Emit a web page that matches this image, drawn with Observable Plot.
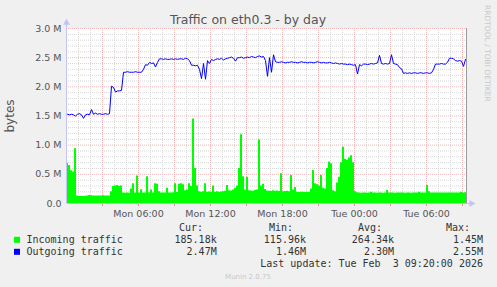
<!DOCTYPE html>
<html><head><meta charset="utf-8">
<script src="https://cdn.jsdelivr.net/npm/d3@7"></script>
<script src="https://cdn.jsdelivr.net/npm/@observablehq/plot@0.6"></script>
<style>
html,body{margin:0;padding:0;background:#f0f0f0;}
#wrap{position:relative;width:497px;height:287px;overflow:hidden;background:#f0f0f0;}
#wrap svg{position:absolute;left:0;top:0;}
</style></head><body><div id="wrap"></div>
<script>
const title = "Traffic on eth0.3 - by day";
const yLabel = "bytes";
const seriesNames = ["Incoming traffic", "Outgoing traffic"];
const seriesColors = ["#00ff00", "#0000ff"];
const statHeaders = ["Cur:", "Min:", "Avg:", "Max:"];
const incomingStats = ["185.18k", "115.96k", "264.34k", "1.45M"];
const outgoingStats = ["2.47M", "1.46M", "2.30M", "2.55M"];
const lastUpdate = "Last update: Tue Feb  3 09:20:00 2026";
const credit = "Munin 2.0.75";
const watermark = "RRDTOOL / TOBI OETIKER";
const yTicks = [0, 0.5, 1, 1.5, 2, 2.5, 3];
const yTickLabels = ["0.0", "0.5 M", "1.0 M", "1.5 M", "2.0 M", "2.5 M", "3.0 M"];
const xTickHours = [6, 12, 18, 24, 30];
const xTickLabels = ["Mon 06:00", "Mon 12:00", "Mon 18:00", "Tue 00:00", "Tue 06:00"];
const startTime = Date.UTC(2026, 1, 2, 0, 0);
const endTime = Date.UTC(2026, 1, 3, 9, 20);
const stepMinutes = 10;

// incoming traffic, thousands of bytes, one value per 10 minutes
const incomingK = [
 690,650,560,540,940,130,120,118,120,125,
 130,138,135,130,128,130,128,130,132,130,
 128,130,200,290,300,310,290,300,180,175,
 178,176,250,340,180,470,180,235,178,180,
 460,185,230,180,340,330,200,180,178,182,
 260,180,178,185,340,190,330,340,320,220,
 230,340,290,1450,600,300,200,195,200,340,
 195,198,195,300,195,200,195,198,200,210,
 310,220,215,230,260,300,600,1180,460,230,
 450,220,215,210,225,230,1090,300,330,240,
 215,210,205,220,210,215,205,510,200,205,
 210,200,480,230,275,195,190,195,192,190,
 195,190,250,565,340,320,300,480,260,250,
 600,710,680,220,200,350,450,700,965,760,
 740,780,820,700,200,185,180,175,178,180,
 176,178,195,180,178,175,180,178,176,180,
 225,182,178,180,176,178,180,182,178,176,
 180,178,176,180,182,178,195,180,178,182,
 310,200,180,178,182,180,178,180,182,180,
 178,182,180,178,180,182,180,195,182,185
];
// outgoing traffic, millions of bytes, one value per 10 minutes
const outgoingM = [
 1.53,1.52,1.53,1.52,1.50,1.53,1.54,1.52,1.46,1.52,
 1.53,1.52,1.61,1.53,1.55,1.53,1.54,1.53,1.53,1.54,
 1.53,1.54,2.01,1.99,1.91,1.93,1.93,1.94,2.25,2.25,
 2.26,2.25,2.25,2.25,2.26,2.25,2.25,2.25,2.30,2.38,
 2.37,2.42,2.40,2.41,2.34,2.42,2.48,2.48,2.47,2.48,
 2.47,2.47,2.48,2.47,2.48,2.47,2.48,2.48,2.47,2.49,
 2.48,2.45,2.37,2.37,2.36,2.37,2.30,2.14,2.40,2.13,
 2.45,2.40,2.47,2.45,2.47,2.48,2.47,2.49,2.46,2.48,
 2.49,2.50,2.51,2.49,2.44,2.50,2.50,2.51,2.49,2.50,
 2.51,2.50,2.52,2.51,2.50,2.52,2.53,2.51,2.52,2.45,
 2.18,2.50,2.25,2.55,2.43,2.42,2.42,2.43,2.42,2.41,
 2.42,2.42,2.43,2.42,2.42,2.41,2.42,2.43,2.42,2.42,
 2.41,2.42,2.42,2.41,2.42,2.43,2.42,2.41,2.42,2.41,
 2.41,2.42,2.41,2.40,2.41,2.40,2.39,2.40,2.39,2.39,
 2.38,2.39,2.38,2.37,2.38,2.22,2.38,2.36,2.39,2.39,
 2.38,2.39,2.40,2.39,2.40,2.41,2.54,2.40,2.39,2.40,
 2.39,2.40,2.55,2.40,2.39,2.38,2.33,2.31,2.23,2.24,
 2.23,2.24,2.23,2.24,2.24,2.23,2.24,2.24,2.23,2.24,
 2.24,2.23,2.24,2.30,2.39,2.39,2.39,2.40,2.39,2.39,
 2.42,2.49,2.49,2.48,2.45,2.44,2.45,2.44,2.35,2.47
];

const MIN = 60000;
const stepMs = stepMinutes * MIN;
const rows = incomingK.map((v, i) => ({
  t: new Date(startTime + i * stepMs),
  tm: new Date(startTime + (i + 0.5) * stepMs),
  inc: v / 1000,
  out: outgoingM[i]
}));
const areaRows = rows.concat([{t: new Date(endTime), inc: rows[rows.length - 1].inc}]);

const hourTimes = d3.range(1, 34).map(h => new Date(startTime + h * 60 * MIN));
const minorX = hourTimes.filter((d, i) => (i + 1) % 3 !== 0);
const majorX = hourTimes.filter((d, i) => (i + 1) % 3 === 0);
const minorY = d3.range(1, 30).filter(k => k % 5 !== 0).map(k => k / 10);
const majorY = [0.5, 1, 1.5, 2, 2.5, 3];
const xTickTimes = xTickHours.map(h => new Date(startTime + h * 60 * MIN));
const start = new Date(startTime), end = new Date(endTime);
const axisColor = "#c4c4f4";
const textColor = "#555";

const chart = Plot.plot({
  width: 497, height: 287,
  marginLeft: 66, marginRight: 31, marginTop: 28, marginBottom: 84,
  style: {background: "transparent", fontFamily: "DejaVu Sans", fontSize: "9.5px", color: textColor},
  x: {type: "utc", domain: [start, end], label: null},
  y: {domain: [0, 3], label: null},
  marks: [
    Plot.frame({fill: "white", stroke: "none"}),
    Plot.ruleY(minorY, {stroke: "#d6d6d6", strokeDasharray: "1,1"}),
    Plot.ruleX(minorX, {stroke: "#d6d6d6", strokeDasharray: "1,1"}),
    Plot.ruleY(majorY, {stroke: "#f0b4b4", strokeDasharray: "1,1"}),
    Plot.ruleX(majorX, {stroke: "#f0b4b4", strokeDasharray: "1,1"}),
    Plot.areaY(areaRows, {x: "t", y: "inc", fill: seriesColors[0], curve: "step-after"}),
    Plot.lineY(rows, {x: "tm", y: "out", stroke: seriesColors[1], strokeWidth: 1}),
    Plot.ruleX(majorX, {y1: 0, y2: -0.05, stroke: "#e89090"}),
    Plot.ruleX([end], {y1: 0, y2: 3, stroke: "#999"}),
    Plot.ruleX([start], {y1: 0, y2: 3.08, stroke: axisColor}),
    Plot.ruleY([0], {x1: start, x2: new Date(endTime + 20 * MIN), stroke: axisColor}),
    Plot.dot([start], {x: d => d, y: () => 3.1, symbol: "triangle", r: 2.6, fill: axisColor, stroke: "none"}),
    Plot.dot([new Date(endTime + 25 * MIN)], {x: d => d, y: () => 0, symbol: "triangle", rotate: 90, r: 2.6, fill: axisColor, stroke: "none"}),
    Plot.axisY(yTicks, {tickSize: 0, tickPadding: 5, tickFormat: d => yTickLabels[yTicks.indexOf(d)], fill: textColor}),
    Plot.axisX(xTickTimes, {tickSize: 0, tickPadding: 7, tickFormat: d => xTickLabels[xTickTimes.findIndex(t => +t === +d)], fill: textColor})
  ]
});
document.getElementById("wrap").appendChild(chart);

// overlay: title, labels, legend
const keepSpaces = s => s.replace(/  /g, " \u00a0");
const ov = d3.select("#wrap").append("svg").attr("width", 497).attr("height", 287)
  .style("font-family", "DejaVu Sans");
ov.append("text").attr("x", 248).attr("y", 24).attr("text-anchor", "middle")
  .attr("font-size", 12.5).attr("fill", textColor).text(title);
ov.append("text").attr("transform", "translate(14,116) rotate(-90)").attr("text-anchor", "middle")
  .attr("font-size", 12).attr("fill", textColor).text(yLabel);
ov.append("text").attr("transform", "translate(485,5) rotate(90)").attr("text-anchor", "start")
  .attr("font-size", 7.5).attr("fill", "#c8c8c8").text(watermark);

const mono = ov.append("g").style("font-family", "DejaVu Sans Mono").attr("font-size", 10).attr("fill", "#333");
const headerEnds = [203, 293, 382, 470];
const valueEnds = [216.7, 306, 394, 483];
statHeaders.forEach((h, i) => mono.append("text").attr("x", headerEnds[i]).attr("y", 231).attr("text-anchor", "end").text(h));
[incomingStats, outgoingStats].forEach((stats, r) => {
  const y = 243.3 + r * 12;
  ov.append("rect").attr("x", 14).attr("y", y - 6.5).attr("width", 6).attr("height", 6).attr("fill", seriesColors[r]);
  mono.append("text").attr("x", 26.5).attr("y", y).text(seriesNames[r]);
  stats.forEach((s, i) => mono.append("text").attr("x", valueEnds[i]).attr("y", y).attr("text-anchor", "end").text(s));
});
mono.append("text").attr("x", 483).attr("y", 266.7).attr("text-anchor", "end").text(keepSpaces(lastUpdate));
ov.append("text").attr("x", 248).attr("y", 278.5).attr("text-anchor", "middle")
  .attr("font-size", 7).attr("fill", "#c8c8c8").text(credit);
</script></body></html>
